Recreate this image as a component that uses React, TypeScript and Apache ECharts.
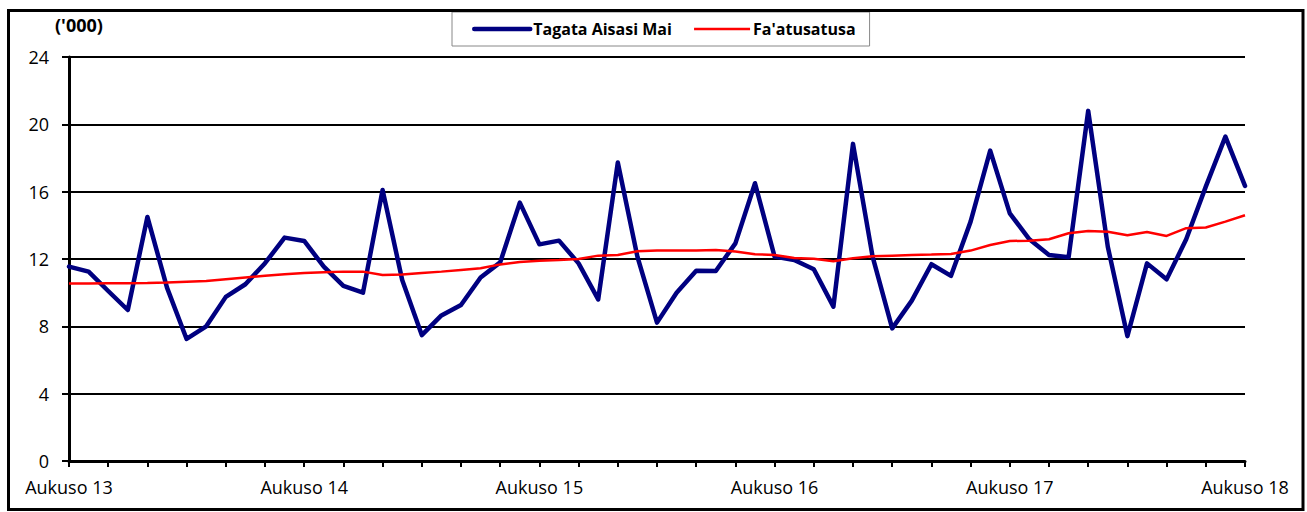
import React, { useEffect, useRef } from "react";
import * as echarts from "echarts";

const monthNames = ["Aukuso", "Setema", "Oketopa", "Novema", "Tesema", "Ianuari", "Fepuari", "Mati", "Aperila", "Me", "Iuni", "Iulai"];
const startYear = 13;
const monthCount = 61;

const categories: string[] = [];
for (let i = 0; i < monthCount; i++) {
  const m = i % 12;
  const yr = startYear + Math.floor(i / 12) + (m >= 5 ? 1 : 0);
  categories.push(monthNames[m] + " " + yr);
}

const visitors = [
  11.55, 11.25, 10.1, 8.97, 14.5, 10.3, 7.25, 8.0, 9.75, 10.5, 11.75, 13.27,
  13.07, 11.55, 10.4, 10.0, 16.1, 10.75, 7.48, 8.65, 9.27, 10.9, 11.8, 15.35,
  12.87, 13.09, 11.74, 9.6, 17.73, 12.14, 8.22, 10.0, 11.3, 11.29, 12.93, 16.5,
  12.14, 11.94, 11.39, 9.17, 18.84, 12.14, 7.88, 9.53, 11.69, 11.0, 14.22, 18.44,
  14.71, 13.17, 12.24, 12.1, 20.8, 12.73, 7.42, 11.74, 10.79, 13.17, 16.3, 19.27,
  16.34,
];

const trend = [
  10.55, 10.55, 10.56, 10.56, 10.57, 10.6, 10.65, 10.7, 10.8, 10.9, 11.0, 11.1,
  11.17, 11.22, 11.25, 11.25, 11.05, 11.08, 11.17, 11.25, 11.35, 11.45, 11.68, 11.82,
  11.9, 11.94, 12.0, 12.2, 12.24, 12.46, 12.5, 12.5, 12.5, 12.53, 12.44, 12.28,
  12.24, 12.06, 12.02, 11.86, 12.04, 12.16, 12.2, 12.24, 12.26, 12.3, 12.5, 12.83,
  13.07, 13.09, 13.17, 13.53, 13.67, 13.62, 13.41, 13.6, 13.37, 13.83, 13.87, 14.22,
  14.6,
];

const seriesNames = ["Tagata Aisasi Mai", "Fa'atusatusa"];
const unitLabel = "('000)";

const FONT = "'Open Sans', 'Noto Sans', sans-serif";

export default function App() {
  const ref = useRef<HTMLDivElement>(null);
  useEffect(() => {
    if (!ref.current) return;
    const chart = echarts.init(ref.current, undefined, { renderer: "svg" });
    chart.setOption({
      animation: false,
      backgroundColor: "#ffffff",
      grid: { left: 69, right: 62, top: 57, bottom: 51, containLabel: false },
      legend: {
        left: 452,
        top: 12,
        padding: [9, 14, 9, 20],
        itemWidth: 56,
        itemHeight: 14,
        itemGap: 21,
        borderColor: "#888888",
        borderWidth: 1,
        backgroundColor: "#ffffff",
        itemStyle: { opacity: 0 },
        textStyle: { fontFamily: FONT, fontWeight: "bold", fontSize: 16, color: "#000000", padding: [0, 0, 0, -2] },
        data: [
          { name: seriesNames[0], lineStyle: { width: 4.5, color: "#000080", cap: "round" } },
          { name: seriesNames[1], lineStyle: { width: 2.5, color: "#ff0000" } },
        ],
      },
      graphic: [
        {
          type: "rect",
          shape: { x: 8.5, y: 10.5, width: 1294.5, height: 499 },
          style: { fill: "none", stroke: "#000000", lineWidth: 3 },
          z: 100,
        },
        {
          type: "text",
          left: 55,
          top: 16,
          style: { text: unitLabel, font: "bold 18px " + FONT, fill: "#000000" },
        },
      ],
      xAxis: {
        type: "category",
        data: categories,
        boundaryGap: false,
        axisLine: { lineStyle: { color: "#000000", width: 3 } },
        axisTick: { show: true, interval: 1, length: 6, lineStyle: { color: "#000000", width: 2 } },
        axisLabel: {
          interval: 11,
          margin: 17,
          fontFamily: FONT,
          fontSize: 18,
          color: "#000000",
          formatter: (v: string) => v,
        },
        splitLine: { show: false },
      },
      yAxis: {
        type: "value",
        min: 0,
        max: 24,
        interval: 4,
        axisLine: { show: true, lineStyle: { color: "#000000", width: 3 } },
        axisTick: { show: true, length: 7, lineStyle: { color: "#000000", width: 2 } },
        axisLabel: { margin: 20, fontFamily: FONT, fontSize: 18, color: "#000000" },
        splitLine: { show: true, lineStyle: { color: "#000000", width: 2 } },
      },
      series: [
        {
          name: seriesNames[0],
          type: "line",
          data: visitors,
          symbol: "none",
          lineStyle: { color: "#000080", width: 4.5, cap: "round", join: "round" },
          itemStyle: { color: "#000080" },
          z: 3,
        },
        {
          name: seriesNames[1],
          type: "line",
          data: trend,
          symbol: "none",
          lineStyle: { color: "#ff0000", width: 2.5 },
          itemStyle: { color: "#ff0000" },
          z: 4,
        },
      ],
    });
    return () => chart.dispose();
  }, []);
  return <div ref={ref} style={{ position: "fixed", left: 0, top: 0, width: 1307, height: 512 }} />;
}
